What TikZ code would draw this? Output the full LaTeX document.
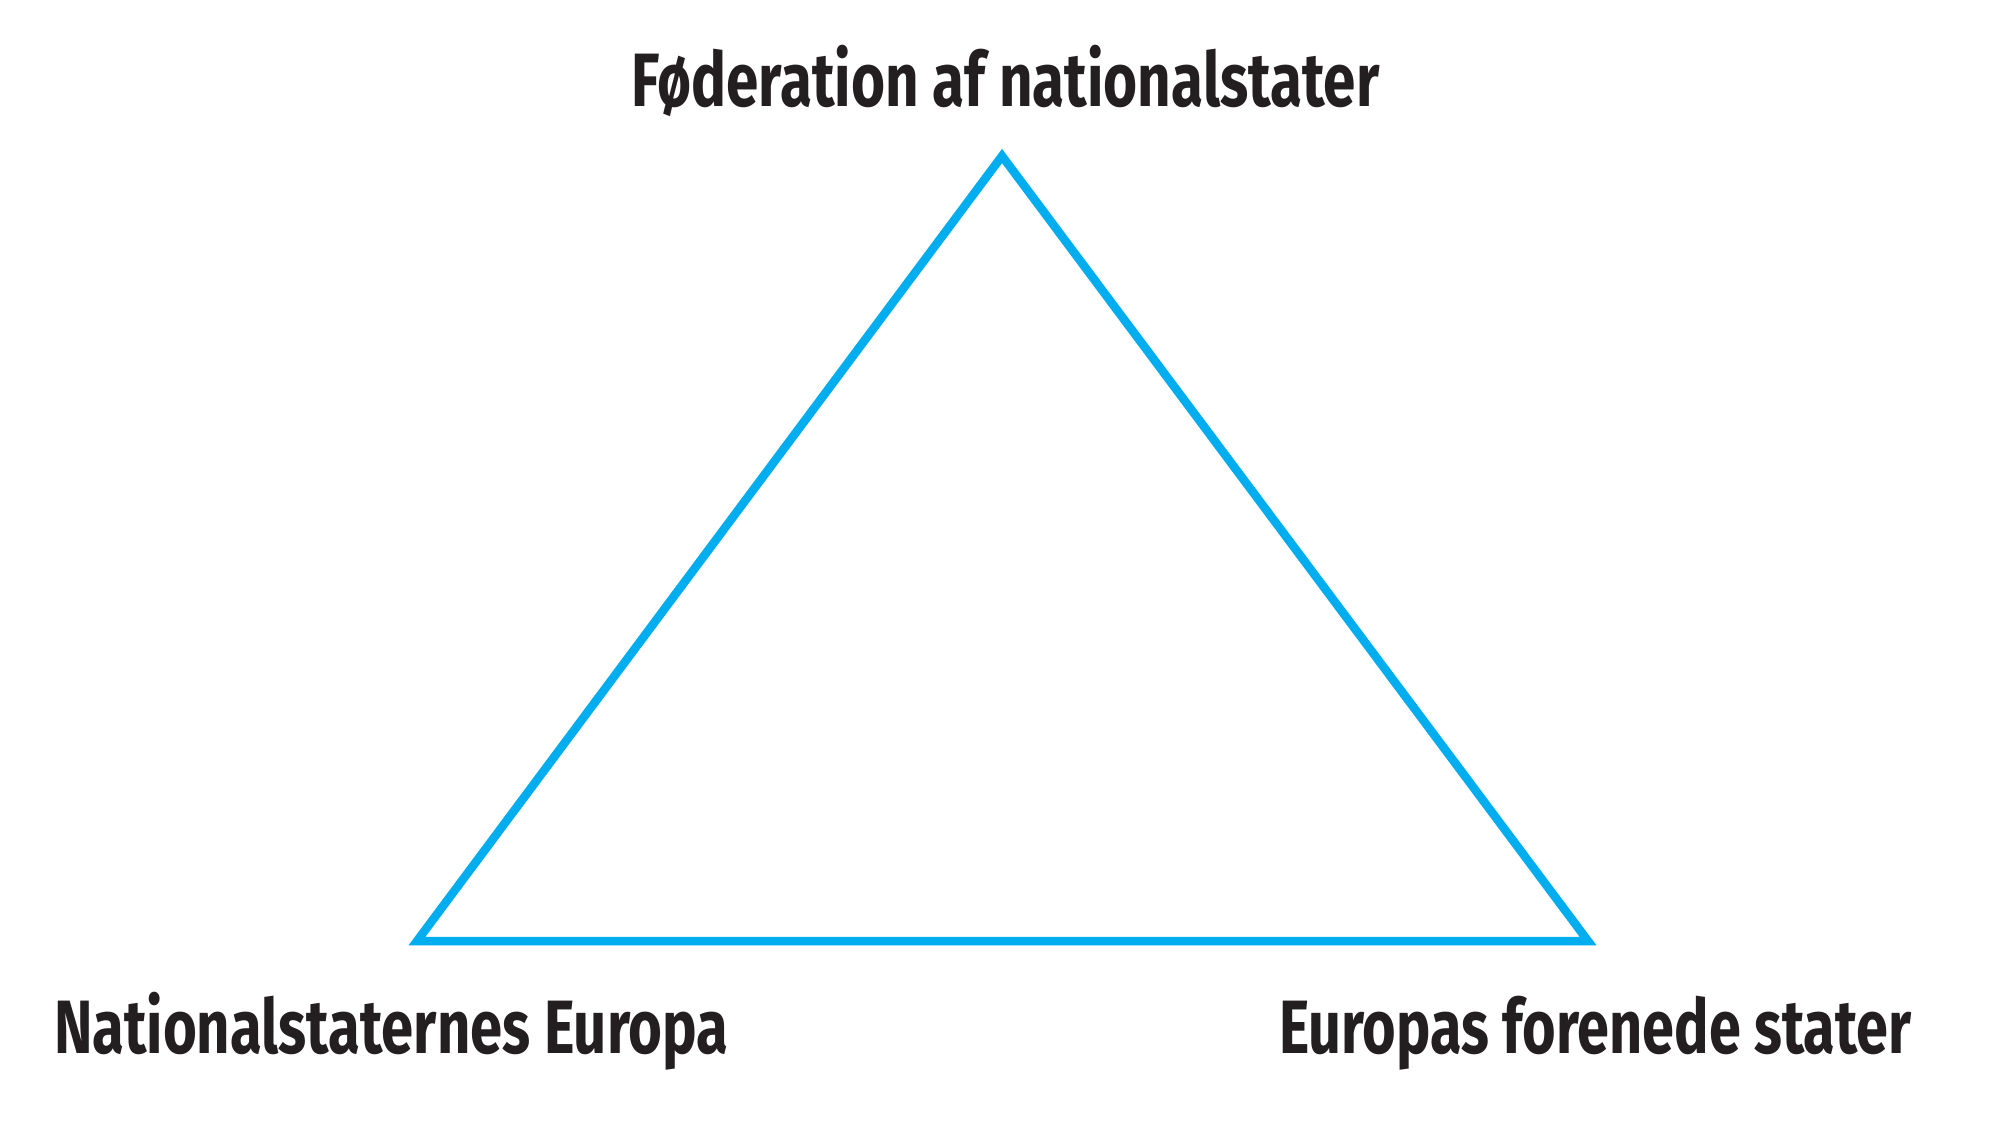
\documentclass[tikz,border=0pt]{standalone}
\usepackage{fontspec}
\setmainfont{Fira Sans}
\usepackage{graphicx}
\definecolor{tricyan}{HTML}{00AEEF}
\definecolor{labelink}{HTML}{231F20}
\newcommand{\lbltext}[2]{\resizebox{#1}{\height}{\fontsize{21.5pt}{24pt}\selectfont\bfseries #2}}
\tikzset{
  tri/.style={draw=tricyan, line width=0.085cm, line join=miter},
  lbl/.style={inner sep=0pt, outer sep=0pt, anchor=base west, text=labelink}
}
\begin{document}
\begin{tikzpicture}[x=0.01cm,y=-0.01cm]
\useasboundingbox (0,0) rectangle (2000,1142);
\coordinate (top) at (1002,156);
\coordinate (left) at (417,941);
\coordinate (right) at (1588,941);
\draw[tri] (top) -- (left) -- (right) -- cycle;
\node[lbl] (ltop) at (631,106) {\lbltext{7.48cm}{Føderation af nationalstater}};
\node[lbl] (lleft) at (54,1053) {\lbltext{6.74cm}{Nationalstaternes Europa}};
\node[lbl] (lright) at (1279,1053) {\lbltext{6.32cm}{Europas forenede stater}};
\end{tikzpicture}
\end{document}
